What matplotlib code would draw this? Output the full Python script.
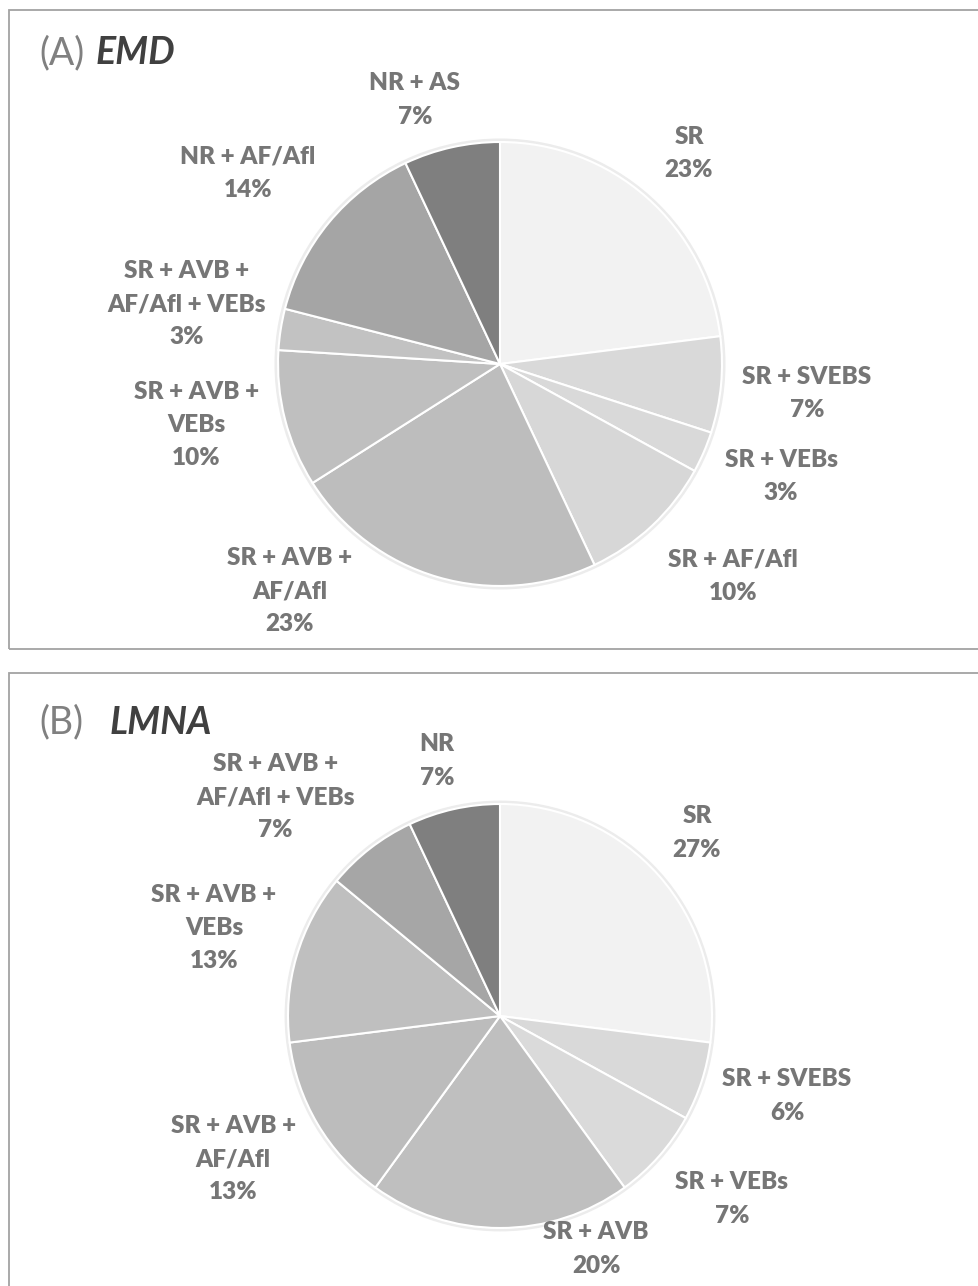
import matplotlib
matplotlib.use('Agg')
import matplotlib.pyplot as plt
from matplotlib.patches import Rectangle, Circle

# ---------------- data ----------------
emd_categories = ["SR", "SR + SVEBS", "SR + VEBs", "SR + AF/Afl",
                  "SR + AVB +\nAF/Afl", "SR + AVB +\nVEBs",
                  "SR + AVB +\nAF/Afl + VEBs", "NR + AF/Afl", "NR + AS"]
emd_values = [23, 7, 3, 10, 23, 10, 3, 14, 7]

lmna_categories = ["SR", "SR + SVEBS", "SR + VEBs", "SR + AVB",
                   "SR + AVB +\nAF/Afl", "SR + AVB +\nVEBs",
                   "SR + AVB +\nAF/Afl + VEBs", "NR"]
lmna_values = [27, 6, 7, 20, 13, 13, 7, 7]

# ---------------- styles / layout ----------------
emd_colors = ['#f2f2f2', '#d9d9d9', '#d9d9d9', '#d7d7d7', '#bdbdbd',
              '#bfbfbf', '#c2c2c2', '#a5a5a5', '#7f7f7f']
lmna_colors = ['#f2f2f2', '#d9d9d9', '#dadada', '#bfbfbf', '#bcbcbc',
               '#bfbfbf', '#a6a6a6', '#7f7f7f']

# label anchor offsets, in units of pie radius relative to the pie centre
emd_label_pos = [(0.851, 0.950), (1.383, -0.131), (1.266, -0.505),
                 (1.050, -0.955), (-0.946, -1.023), (-1.369, -0.275),
                 (-1.410, 0.270), (-1.135, 0.860), (-0.383, 1.189)]
lmna_label_pos = [(0.929, 0.863), (1.354, -0.377), (1.094, -0.863),
                  (0.453, -1.099), (-1.259, -0.675), (-1.349, 0.415),
                  (-1.061, 1.033), (-0.297, 1.203)]

W, H = 979, 1286
fig = plt.figure(figsize=(W / 100, H / 100), dpi=100)

LABEL_COLOR = '#767676'
FONT = ['Lato', 'DejaVu Sans']


def add_pie(cx, cy, r, values, cats, colors, label_pos):
    half = r * 1.15
    ax = fig.add_axes([(cx - half) / W, 1 - (cy + half) / H,
                       2 * half / W, 2 * half / H])
    L = half / r
    # subtle shadow ring like Excel
    ax.add_patch(Circle((0, 0), 1.008, facecolor='none',
                        edgecolor='#ececec', lw=2.5, zorder=0))
    ax.pie(values, colors=colors, startangle=90, counterclock=False,
           radius=1.0, center=(0, 0),
           wedgeprops=dict(edgecolor='white', linewidth=1.5))
    for cat, v, (lx, ly) in zip(cats, values, label_pos):
        ax.text(lx, ly, f"{cat}\n{v}%", ha='center', va='center',
                fontsize=17.5, fontweight='heavy', color=LABEL_COLOR,
                family=FONT, linespacing=1.62)
    ax.set_xlim(-L, L)
    ax.set_ylim(-L, L)
    ax.set_aspect('equal')
    ax.axis('off')
    return ax


add_pie(500, 364, 222, emd_values, emd_categories, emd_colors, emd_label_pos)
add_pie(500, 1016, 212, lmna_values, lmna_categories, lmna_colors, lmna_label_pos)

# panel frames
for top, bottom in [(10, 649), (673, H + 20)]:
    fig.patches.append(Rectangle((9 / W, 1 - bottom / H), (W + 20) / W,
                                 (bottom - top) / H, transform=fig.transFigure,
                                 fill=False, edgecolor='#a3a3a3', lw=1.3))

# panel titles
fig.text(39 / W, 1 - 53 / H, "(A)", fontsize=27, color='#808080',
         family=FONT, ha='left', va='center')
fig.text(96 / W, 1 - 53 / H, "EMD", fontsize=27, color='#404040',
         family=FONT, fontweight='bold', style='italic', ha='left', va='center')
fig.text(39 / W, 1 - 722 / H, "(B)", fontsize=27, color='#808080',
         family=FONT, ha='left', va='center')
fig.text(110 / W, 1 - 722 / H, "LMNA", fontsize=27, color='#404040',
         family=FONT, fontweight='bold', style='italic', ha='left', va='center')

fig.savefig('out.png', dpi=100, facecolor='white')
